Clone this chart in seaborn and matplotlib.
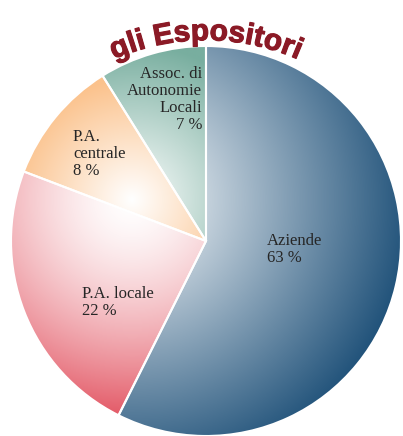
import numpy as np
import matplotlib
matplotlib.use("Agg")
import matplotlib.pyplot as plt
import matplotlib.patheffects as pe
import seaborn as sns
from matplotlib.font_manager import FontProperties

# Data
categories = ["Aziende", "P.A. locale", "P.A. centrale", "Assoc. di Autonomie Locali"]
label_lines = ["Aziende", "P.A. locale", "P.A.\ncentrale", "Assoc. di\nAutonomie\nLocali"]
percent_labels = [63, 22, 8, 7]
# slice sizes as they are drawn in the reference (the artwork is not to scale)
wedge_shares = [57.4, 23.4, 10.3, 8.9]
title = "gli Espositori"

# colours: dark end of each slice gradient
dark_colors = ["#1f5179", "#e2515f", "#fbc28c", "#78ae9f"]
grad_scale = [1.45, 1.15, 0.62, 0.80]
grad_gamma = [1.0, 1.5, 1.0, 1.0]

sns.set_theme(style="white")

fig = plt.figure(figsize=(4.03, 4.36), dpi=100)
fig.patch.set_facecolor("white")
ax = fig.add_axes([11 / 403, 0.0, 390 / 403, 390 / 436])

wedges, _ = ax.pie(wedge_shares, startangle=90, counterclock=False, radius=1,
                   wedgeprops=dict(facecolor="none", edgecolor="white", linewidth=1.5, zorder=3))

# shaded fill: light spot up-left of the centre, darker towards the rim
hx, hy = -0.38, 0.21
xx, yy = np.meshgrid(np.linspace(-1, 1, 500), np.linspace(-1, 1, 500))
dist = np.hypot(xx - hx, yy - hy)
for w, dark, sc, gm in zip(wedges, dark_colors, grad_scale, grad_gamma):
    cmap = sns.blend_palette(["#ffffff", dark], as_cmap=True)
    t = np.clip(dist / sc, 0, 1) ** gm
    im = ax.imshow(t, extent=(-1, 1, -1, 1), origin="lower", cmap=cmap,
                   vmin=0, vmax=1, zorder=1, interpolation="bilinear")
    im.set_clip_path(w)

ax.set_xlim(-1, 1)
ax.set_ylim(-1, 1)
ax.set_aspect("auto")
ax.axis("off")

# slice labels
label_pos = [(0.313, -0.046, "left"), (-0.636, -0.313, "left"),
             (-0.682, 0.446, "left"), (-0.02, 0.726, "right")]
for name, pct, (x, y, ha) in zip(label_lines, percent_labels, label_pos):
    ax.text(x, y, f"{name}\n{pct} %", ha=ha, va="center", multialignment=ha,
            fontsize=12, family="Liberation Serif", color="#262626",
            linespacing=1.08, zorder=5)

# arched title along a circle above the pie
fp = FontProperties(family="Liberation Sans", weight="bold", size=21.5)
renderer = fig.canvas.get_renderer()


def textw(s):
    w, h, d = renderer.get_text_width_height_descent(s, fp, ismath=False)
    return w


title_color = "#8b1a26"
px_per_unit = 195.0
arc_cy = -0.15
arc_r = 1.18 * px_per_unit
total = textw(title)
for i, ch in enumerate(title):
    if ch == " ":
        continue
    right = textw(title[:i + 1])
    cw = textw(ch)
    mid = right - cw / 2 - total / 2
    theta = np.pi / 2 - mid / arc_r
    x = arc_r * np.cos(theta) / px_per_unit
    y = arc_cy + arc_r * np.sin(theta) / px_per_unit
    ax.text(x, y, ch, fontproperties=fp, color=title_color, ha="center", va="baseline",
            rotation=np.degrees(theta) - 90, rotation_mode="anchor", clip_on=False, zorder=6,
            path_effects=[pe.withStroke(linewidth=0.8, foreground=title_color)])

plt.savefig("out.png", dpi=100, facecolor="white")
